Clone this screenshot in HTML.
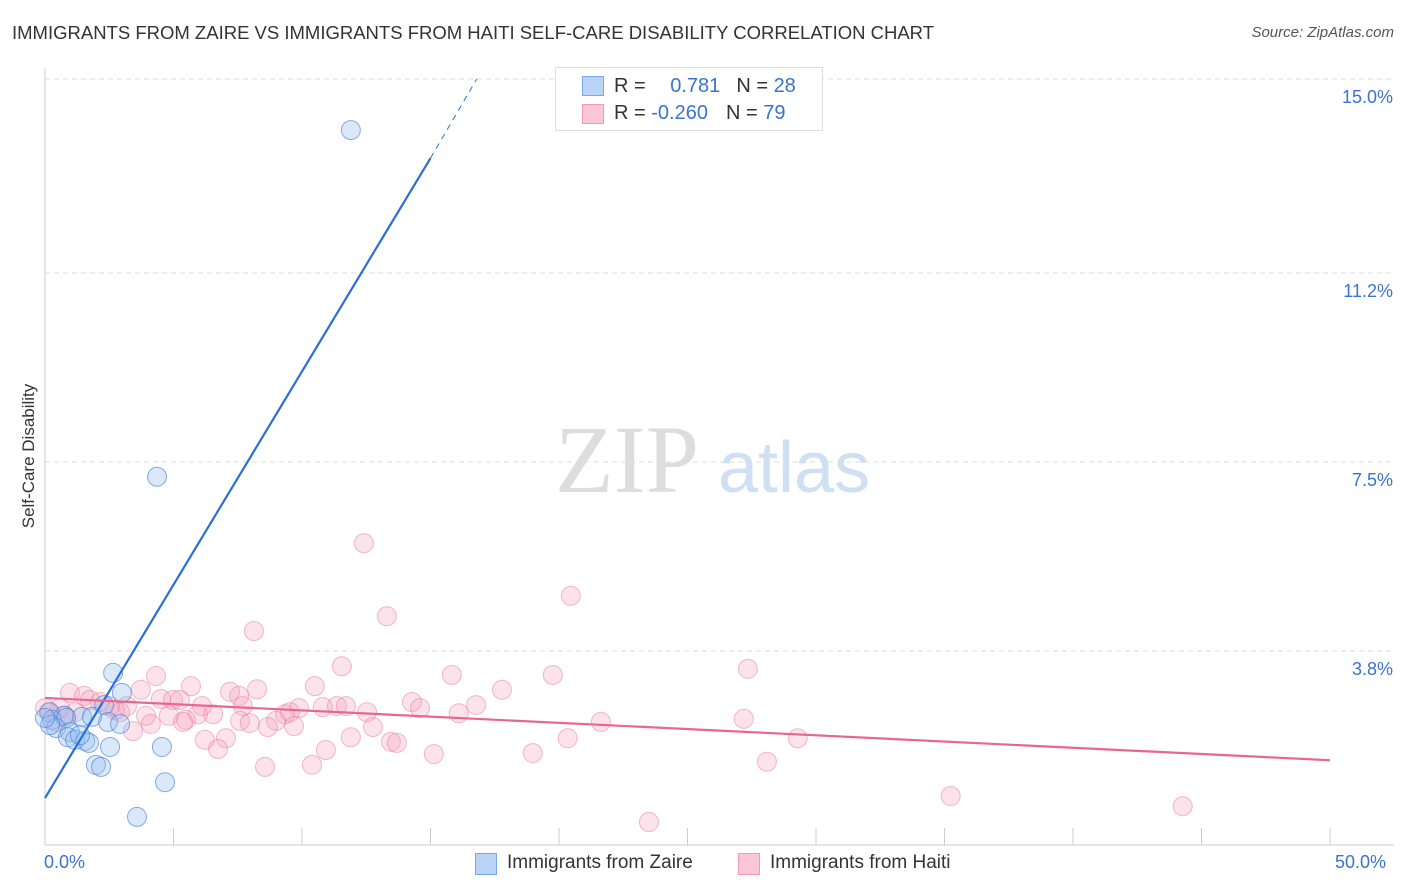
<!DOCTYPE html>
<html><head><meta charset="utf-8">
<style>
body{margin:0;background:#fff;font-family:"Liberation Sans",sans-serif;}
#wrap{position:relative;width:1406px;height:892px;overflow:hidden;}
.t{position:absolute;white-space:nowrap;}
</style></head>
<body>
<div id="wrap">
<div class="t" style="left:12px;top:22px;font-size:18.5px;color:#333;">IMMIGRANTS FROM ZAIRE VS IMMIGRANTS FROM HAITI SELF-CARE DISABILITY CORRELATION CHART</div>
<div class="t" style="right:12px;top:24px;font-size:15px;color:#555;font-style:italic;">Source: ZipAtlas.com</div>
<svg id="plot" width="1406" height="892" style="position:absolute;left:0;top:0">
<text x="555" y="492" font-family="Liberation Serif" font-size="96" fill="#ddd">ZIP</text>
<text x="718" y="492" font-family="Liberation Sans" font-size="72" fill="#cfe0f5">atlas</text>
<text transform="translate(34,456) rotate(-90)" text-anchor="middle" font-size="17" fill="#333">Self-Care Disability</text>
</svg>
<div style="position:absolute;left:555px;top:67px;width:266px;height:62px;border:1px solid #ddd;background:#fff;font-size:20px;">
 <div style="position:absolute;left:26px;top:8px;width:20px;height:18px;background:#b9d4f7;border:1px solid #7aa8e6"></div>
 <div style="position:absolute;left:26px;top:36px;width:20px;height:18px;background:#fbc6d6;border:1px solid #f09ab4"></div>
 <div class="t" style="left:58px;top:7px;color:#333">R = <span style="color:#3a73d0;margin-left:19px">0.781</span><span style="margin-left:16px">N = </span><span style="color:#3a73d0">28</span></div>
 <div class="t" style="left:58px;top:34px;color:#333">R = <span style="color:#3a73d0">-0.260</span><span style="margin-left:18px">N = </span><span style="color:#3a73d0">79</span></div>
</div>
<div class="t" style="left:44px;top:852px;font-size:18px;color:#3a73d0">0.0%</div>
<div class="t" style="left:1335px;top:852px;font-size:18px;color:#3a73d0">50.0%</div>
<div style="position:absolute;left:475px;top:853px;width:20px;height:20px;background:#b9d4f7;border:1px solid #7aa8e6"></div>
<div class="t" style="left:507px;top:852px;font-size:19px;color:#333">Immigrants from Zaire</div>
<div style="position:absolute;left:738px;top:853px;width:20px;height:20px;background:#fbc6d6;border:1px solid #f09ab4"></div>
<div class="t" style="left:770px;top:852px;font-size:19px;color:#333">Immigrants from Haiti</div>
</div>
<script>
const yTicks=[15.0,11.2,7.5,3.8];
const yTickLabels=["15.0%","11.2%","7.5%","3.8%"];
const xTicks=[0,5,10,15,20,25,30,35,40,45,50];
const zaireX=[11.9,4.36,2.65,2.99,2.30,0.16,0.74,1.44,0.27,0.82,2.45,2.92,0.43,0.97,0.89,1.17,1.56,1.71,2.53,4.55,1.98,2.18,4.67,3.58,0.2,1.36,1.83,0];
const zaireY=[14.0,7.21,3.37,2.98,2.74,2.60,2.53,2.51,2.45,2.49,2.41,2.37,2.29,2.21,2.11,2.06,2.04,2.00,1.92,1.92,1.57,1.53,1.23,0.55,2.35,2.15,2.51,2.49];
const haitiX=[12.41,20.46,8.13,13.30,4.32,11.55,27.35,15.83,19.76,5.68,10.50,17.78,3.73,7.20,8.25,7.55,0.97,1.52,4.51,4.98,5.25,14.28,16.77,14.59,7.70,6.11,9.88,10.81,11.36,11.71,3.19,2.72,2.14,0.58,9.34,9.53,12.53,16.10,6.54,5.95,4.82,3.93,1.17,27.19,21.63,7.59,8.99,5.48,7.97,5.37,8.67,9.69,4.12,3.42,12.76,11.90,20.34,29.29,6.22,7.04,13.46,13.69,6.73,10.93,15.13,18.98,8.56,10.39,28.09,35.24,44.27,23.50,0,0.2,1.75,2.92,0.43,0.78,2.53];
const haitiY=[5.91,4.88,4.19,4.48,3.31,3.50,3.45,3.33,3.33,3.11,3.11,3.04,3.04,3.00,3.05,2.92,2.98,2.92,2.86,2.84,2.84,2.80,2.74,2.68,2.72,2.72,2.68,2.70,2.72,2.72,2.72,2.64,2.80,2.68,2.56,2.60,2.60,2.58,2.56,2.56,2.53,2.53,2.60,2.47,2.41,2.43,2.43,2.45,2.39,2.41,2.31,2.33,2.37,2.23,2.31,2.11,2.09,2.09,2.06,2.09,2.02,2.00,1.88,1.86,1.78,1.80,1.53,1.57,1.63,0.96,0.76,0.45,2.68,2.60,2.84,2.60,2.41,2.53,2.72];
const zaireTrendX=[0,15.0,16.8];
const zaireTrendY=[0.92,13.45,15.0];
const haitiTrendX=[0,50];
const haitiTrendY=[2.88,1.66];

const X=v=>45+v*1285/50;
const Y=v=>845-v*766/15;
const svg=document.getElementById('plot');
const NS='http://www.w3.org/2000/svg';
function mk(tag,attrs){const e=document.createElementNS(NS,tag);for(const k in attrs)e.setAttribute(k,attrs[k]);svg.appendChild(e);return e;}
yTicks.forEach((t,i)=>{
 const g=mk('line',{x1:45,x2:1394,y1:Y(t),y2:Y(t),stroke:'#ddd','stroke-dasharray':'5,4'});
 
 
 const l=mk('text',{x:1393,y:Y(t)+24,'text-anchor':'end','font-size':18,fill:'#3a73d0'});
 l.textContent=yTickLabels[i];
 
 
});
const ax=mk('line',{x1:45,x2:45,y1:68,y2:845,stroke:'#ccc'});


const bx=mk('line',{x1:45,x2:1394,y1:845,y2:845,stroke:'#ccc'});


xTicks.forEach(t=>{
 const k=mk('line',{x1:X(t),x2:X(t),y1:828,y2:845,stroke:'#ccc'});
 
 
});
haitiX.forEach((x,i)=>{
 const c=mk('circle',{cx:X(x),cy:Y(haitiY[i]),r:9.5,fill:'rgba(246,160,188,0.3)',stroke:'rgba(232,120,156,0.5)','stroke-width':1});
 
 
});
zaireX.forEach((x,i)=>{
 const c=mk('circle',{cx:X(x),cy:Y(zaireY[i]),r:9.5,fill:'rgba(150,190,240,0.35)',stroke:'rgba(70,130,215,0.65)','stroke-width':1});
 
 
});
const bl=mk('line',{x1:X(zaireTrendX[0]),y1:Y(zaireTrendY[0]),x2:X(zaireTrendX[1]),y2:Y(zaireTrendY[1]),stroke:'#2b6fd6','stroke-width':2.2});


const bd=mk('line',{x1:X(zaireTrendX[1]),y1:Y(zaireTrendY[1]),x2:X(zaireTrendX[2]),y2:Y(zaireTrendY[2]),stroke:'#2b6fd6','stroke-width':1,'stroke-dasharray':'6,5'});


const pl=mk('line',{x1:X(haitiTrendX[0]),y1:Y(haitiTrendY[0]),x2:X(haitiTrendX[1]),y2:Y(haitiTrendY[1]),stroke:'#e8668f','stroke-width':2.2});


</script>
</body></html>
